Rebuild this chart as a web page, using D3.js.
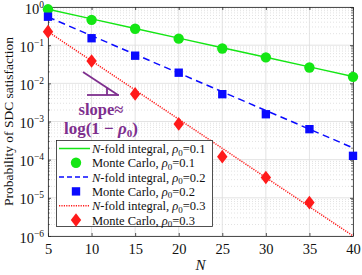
<!DOCTYPE html>
<html>
<head>
<meta charset="utf-8">
<script src="https://cdn.jsdelivr.net/npm/d3@7"></script>
<style>
  body { margin: 0; background: #fff; }
  svg { display: block; font-family: "Liberation Serif", "DejaVu Serif", serif; }
  .grid-major { stroke: #dcdcdc; stroke-width: 0.8; }
  .grid-minor { stroke: #cfcfcf; stroke-width: 0.6; stroke-dasharray: 1,2; }
</style>
</head>
<body>
<svg id="svg" width="362" height="275"></svg>
<script>
// N values on the x axis
const nValues = [5, 10, 15, 20, 25, 30, 35, 40];
const xTicks = [5, 10, 15, 20, 25, 30, 35, 40];
const yExponents = [0, -1, -2, -3, -4, -5, -6];

// N-fold integral curves
const integral01 = [0.87, 0.488, 0.274, 0.153, 0.086, 0.048, 0.027, 0.0152];
const integral02 = [0.547, 0.177, 0.0574, 0.0186, 0.0060, 0.00194, 6.3e-4, 2.04e-4];
const integral03 = [0.226, 0.0388, 0.00668, 0.00115, 1.98e-4, 3.4e-5, 5.85e-6, 1.01e-6];

// Monte Carlo estimates
const mc01 = [0.87, 0.46, 0.27, 0.148, 0.082, 0.048, 0.026, 0.0148];
const mc02 = [0.557, 0.152, 0.053, 0.019, 0.0052, 0.00155, 6.3e-4, 1.26e-4];
const mc03 = [0.226, 0.0386, 0.00528, 8.65e-4, 1.2e-4, 3.4e-5, 7.5e-6];

const attr = {
  left: 48, right: 353, top: 7, bottom: 236
}

const colors = { g: "#14e614", b: "#0a0aff", r: "#ff1a1a", purple: "#7e2f8e" };

const svg = d3.select("svg#svg");

const x = d3.scaleLinear().domain([5, 40]).range([attr.left, attr.right]);
const y = d3.scaleLog().domain([1e-6, 1]).range([attr.bottom, attr.top]);

// Grid
const grid = svg.append("g");
const minorVals = [];
for (let e = -6; e < 0; e++) {
  for (let k = 2; k <= 9; k++) minorVals.push(k * Math.pow(10, e));
}
grid.selectAll("line.minor-y")
  .data(minorVals)
  .enter()
  .append("line")
  .attr("class", "grid-minor")
  .attr("x1", attr.left).attr("x2", attr.right)
  .attr("y1", d => y(d)).attr("y2", d => y(d));

grid.selectAll("line.major-y")
  .data(yExponents.map(e => Math.pow(10, e)))
  .enter()
  .append("line")
  .attr("class", "grid-major")
  .attr("x1", attr.left).attr("x2", attr.right)
  .attr("y1", d => y(d)).attr("y2", d => y(d));

grid.selectAll("line.major-x")
  .data(xTicks)
  .enter()
  .append("line")
  .attr("class", "grid-major")
  .attr("x1", d => x(d)).attr("x2", d => x(d))
  .attr("y1", attr.top).attr("y2", attr.bottom);

// Axes (ticks inward, box on)
const axisColor = "#262626";
const xAxis = svg.append("g")
  .attr("transform", "translate(0," + attr.bottom + ")")
  .call(d3.axisBottom(x).tickValues(xTicks).tickSizeInner(-3).tickSizeOuter(0).tickPadding(8));
const xAxisTop = svg.append("g")
  .attr("transform", "translate(0," + attr.top + ")")
  .call(d3.axisTop(x).tickValues(xTicks).tickSizeInner(-3).tickSizeOuter(0).tickFormat(""));
const yAxis = svg.append("g")
  .attr("transform", "translate(" + attr.left + ",0)")
  .call(d3.axisLeft(y).tickValues(yExponents.map(e => Math.pow(10, e))).tickSizeInner(-3).tickSizeOuter(0).tickPadding(5).tickFormat(""));
const yAxisRight = svg.append("g")
  .attr("transform", "translate(" + attr.right + ",0)")
  .call(d3.axisRight(y).tickValues(yExponents.map(e => Math.pow(10, e))).tickSizeInner(-3).tickSizeOuter(0).tickFormat(""));

[xAxis, xAxisTop, yAxis, yAxisRight].forEach(function(a) {
  a.select(".domain").attr("stroke", axisColor).attr("stroke-width", 0.8);
  a.selectAll(".tick line").attr("stroke", axisColor).attr("stroke-width", 0.8);
});
xAxis.selectAll(".tick text")
  .attr("fill", "#111")
  .style("font-size", "14.5px")
  .style("font-family", "Liberation Serif");

// minor y ticks on both sides
svg.append("g").selectAll("line")
  .data(minorVals)
  .enter()
  .append("line")
  .attr("x1", attr.left).attr("x2", attr.left + 1.8)
  .attr("y1", d => y(d)).attr("y2", d => y(d))
  .attr("stroke", axisColor).attr("stroke-width", 0.6);
svg.append("g").selectAll("line")
  .data(minorVals)
  .enter()
  .append("line")
  .attr("x1", attr.right - 1.8).attr("x2", attr.right)
  .attr("y1", d => y(d)).attr("y2", d => y(d))
  .attr("stroke", axisColor).attr("stroke-width", 0.6);

// y tick labels with exponents
const yLabels = svg.append("g").selectAll("text")
  .data(yExponents)
  .enter()
  .append("text")
  .attr("x", attr.left - 4)
  .attr("y", d => y(Math.pow(10, d)) + 6.5)
  .attr("text-anchor", "end")
  .attr("fill", "#111")
  .style("font-size", "14.5px");
yLabels.append("tspan").text("10");
yLabels.append("tspan")
  .attr("dy", -6)
  .style("font-size", "9.5px")
  .text(d => d === 0 ? "0" : "\u2212" + (-d));

// Axis titles
svg.append("text")
  .attr("transform", "translate(13," + ((attr.top + attr.bottom) / 2) + ") rotate(-90)")
  .attr("text-anchor", "middle")
  .attr("fill", "#111")
  .style("font-size", "13.5px")
  .text("Probability of SDC satisfaction");

svg.append("text")
  .attr("x", (attr.left + attr.right) / 2)
  .attr("y", 270)
  .attr("text-anchor", "middle")
  .attr("fill", "#111")
  .style("font-size", "15px")
  .style("font-style", "italic")
  .text("N");

// Clip for curves
svg.append("clipPath").attr("id", "plotclip")
  .append("rect")
  .attr("x", attr.left).attr("y", attr.top)
  .attr("width", attr.right - attr.left).attr("height", attr.bottom - attr.top);

const line = d3.line().x((d, i) => x(nValues[i])).y(d => y(d));

const curves = svg.append("g").attr("clip-path", "url(#plotclip)");
curves.append("path").datum(integral01)
  .attr("d", line).attr("fill", "none")
  .attr("stroke", colors.g).attr("stroke-width", 1.5);
curves.append("path").datum(integral02)
  .attr("d", line).attr("fill", "none")
  .attr("stroke", colors.b).attr("stroke-width", 1.5)
  .attr("stroke-dasharray", "7,4.5");
curves.append("path").datum(integral03)
  .attr("d", line).attr("fill", "none")
  .attr("stroke", colors.r).attr("stroke-width", 1.5)
  .attr("stroke-dasharray", "1.2,1.2");

// Markers
const circleSym = d3.symbol().type(d3.symbolCircle).size(85);
const squareSym = d3.symbol().type(d3.symbolSquare).size(70);
const diamondSym = function() {
  return "M0,-6.8L5.2,0L0,6.8L-5.2,0Z";
};

const markers = svg.append("g");
markers.selectAll("path.mc01")
  .data(mc01)
  .enter()
  .append("path")
  .attr("d", circleSym)
  .attr("transform", (d, i) => "translate(" + x(nValues[i]) + "," + y(d) + ")")
  .attr("fill", colors.g);
markers.selectAll("path.mc02")
  .data(mc02)
  .enter()
  .append("path")
  .attr("d", squareSym)
  .attr("transform", (d, i) => "translate(" + x(nValues[i]) + "," + y(d) + ")")
  .attr("fill", colors.b);
markers.selectAll("path.mc03")
  .data(mc03)
  .enter()
  .append("path")
  .attr("d", diamondSym)
  .attr("transform", (d, i) => "translate(" + x(nValues[i]) + "," + y(d) + ")")
  .attr("fill", colors.r);

// Slope annotation
const ann = svg.append("g").attr("stroke", colors.purple).attr("stroke-width", 1.8).attr("fill", "none");
ann.append("path").attr("d", "M83,72L118,95");
ann.append("path").attr("d", "M87,95L119,95");
ann.append("path").attr("d", "M107,87.5L107,95");

svg.append("text")
  .attr("x", 101).attr("y", 115)
  .attr("text-anchor", "middle")
  .attr("fill", colors.purple)
  .style("font-size", "16.5px")
  .style("font-weight", "bold")
  .text("slope\u2248");

const logText = svg.append("text")
  .attr("x", 101).attr("y", 134)
  .attr("text-anchor", "middle")
  .attr("fill", colors.purple)
  .style("font-size", "17px")
  .style("font-weight", "bold");
logText.append("tspan").text("log(1 \u2212 ");
logText.append("tspan").style("font-style", "italic").text("\u03c1");
logText.append("tspan").attr("dy", 3).style("font-size", "11px").text("0");
logText.append("tspan").attr("dy", -3).text(")");

// Legend
const legendItems = [
  { kind: "line", color: colors.g, dash: null, rho: "0.1" },
  { kind: "circle", color: colors.g, rho: "0.1" },
  { kind: "line", color: colors.b, dash: "5,3", rho: "0.2" },
  { kind: "square", color: colors.b, rho: "0.2" },
  { kind: "line", color: colors.r, dash: "1.2,1.2", rho: "0.3" },
  { kind: "diamond", color: colors.r, rho: "0.3" }
];

const legend = svg.append("g");
legend.append("rect")
  .attr("x", 56.5).attr("y", 140.5)
  .attr("width", 156).attr("height", 86)
  .attr("fill", "#fff")
  .attr("stroke", axisColor).attr("stroke-width", 0.8);

const rows = legend.selectAll("g.row")
  .data(legendItems)
  .enter()
  .append("g")
  .attr("class", "row")
  .attr("transform", (d, i) => "translate(0," + (148.5 + i * 14.3) + ")");

rows.each(function(d) {
  const r = d3.select(this);
  if (d.kind === "line") {
    r.append("line")
      .attr("x1", 59).attr("x2", 90).attr("y1", 0).attr("y2", 0)
      .attr("stroke", d.color).attr("stroke-width", 1.5)
      .attr("stroke-dasharray", d.dash);
  } else if (d.kind === "circle") {
    r.append("path").attr("d", circleSym).attr("transform", "translate(76,0)").attr("fill", d.color);
  } else if (d.kind === "square") {
    r.append("path").attr("d", squareSym).attr("transform", "translate(76,0)").attr("fill", d.color);
  } else {
    r.append("path").attr("d", diamondSym).attr("transform", "translate(76,0)").attr("fill", d.color);
  }
  const t = r.append("text")
    .attr("x", 92).attr("y", 4.5)
    .attr("fill", "#111")
    .style("font-size", "12.5px");
  if (d.kind === "line") {
    t.append("tspan").style("font-style", "italic").text("N");
    t.append("tspan").text("-fold integral, ");
  } else {
    t.append("tspan").text("Monte Carlo, ");
  }
  t.append("tspan").style("font-style", "italic").text("\u03c1");
  t.append("tspan").attr("dy", 2.5).style("font-size", "9px").text("0");
  t.append("tspan").attr("dy", -2.5).text("=" + d.rho);
});
</script>
</body>
</html>
